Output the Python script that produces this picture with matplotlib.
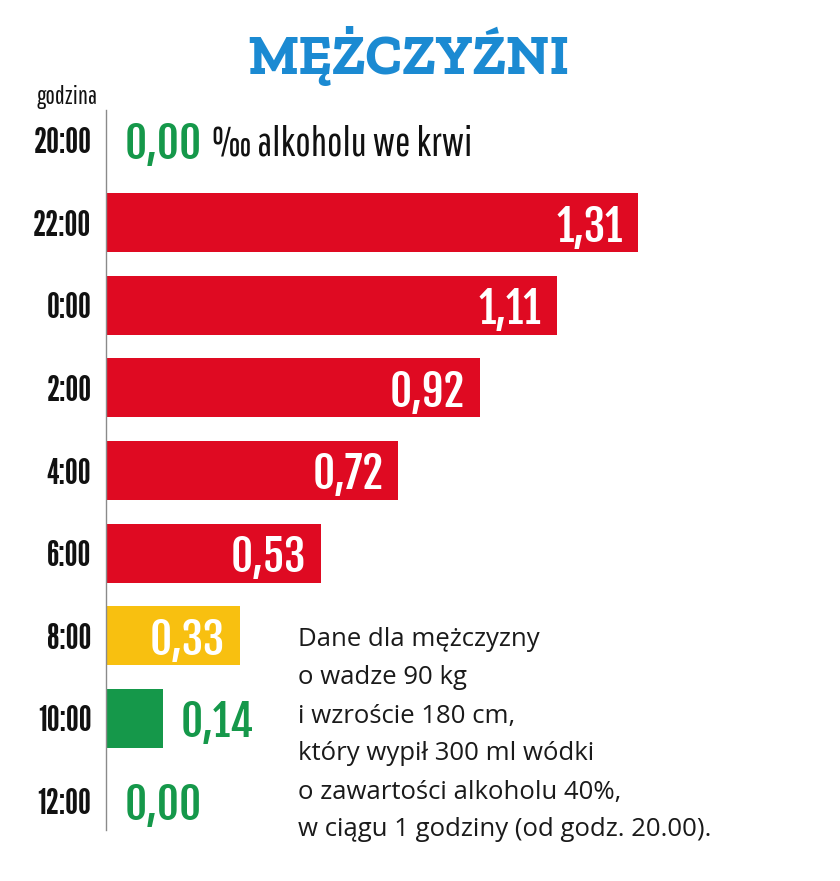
import matplotlib
matplotlib.use("Agg")
import matplotlib.pyplot as plt

hours = ["20:00", "22:00", "0:00", "2:00", "4:00", "6:00", "8:00", "10:00", "12:00"]
values = [0.00, 1.31, 1.11, 0.92, 0.72, 0.53, 0.33, 0.14, 0.00]
labels = ["0,00", "1,31", "1,11", "0,92", "0,72", "0,53", "0,33", "0,14", "0,00"]
title = "MĘŻCZYŹNI"
axis_title = "godzina"
unit_text = "‰ alkoholu we krwi"
note_lines = ["Dane dla mężczyzny", "o wadze 90 kg", "i wzroście 180 cm,",
              "który wypił 300 ml wódki", "o zawartości alkoholu 40%,",
              "w ciągu 1 godziny (od godz. 20.00)."]

RED = "#DF0A22"
YELLOW = "#F8C010"
GREEN = "#15984A"
BLUE = "#1B8AD2"

TICK_FONT = ["League Gothic", "Pathway Gothic One", "DejaVu Sans"]
TEXT_FONT = ["Pathway Gothic One", "Antonio", "DejaVu Sans"]
VAL_FONT = ["Fjalla One", "Oswald", "DejaVu Sans"]
NOTE_FONT = ["Open Sans", "DejaVu Sans"]
TITLE_FONT = ["Zilla Slab", "DejaVu Serif"]


def color_for(v):
    if v >= 0.5:
        return RED
    if v >= 0.2:
        return YELLOW
    return GREEN


W, H = 840, 881
fig = plt.figure(figsize=(8.4, 8.81), dpi=100)
top_px, bot_px = 98.7, 842.3
ax = fig.add_axes([106 / W, (H - bot_px) / H, (840 - 106) / W, (bot_px - top_px) / H])
ax.set_xlim(0, (840 - 106) / 406)
ax.set_ylim(8.5, -0.5)

ypos = list(range(len(hours)))
cols = [color_for(v) for v in values]
ax.barh(ypos, values, height=0.715, color=cols, zorder=2)

for s in ["top", "right", "bottom"]:
    ax.spines[s].set_visible(False)
ax.spines["left"].set_color("#8a8a8a")
ax.spines["left"].set_linewidth(1.0)
ax.spines["left"].set_bounds(8.35, -0.36)
ax.set_xticks([])
ax.set_yticks(ypos)
ax.set_yticklabels(hours, family=TICK_FONT, fontsize=26, color="#111111")
ax.tick_params(axis="y", length=0, pad=10.5)

for y, v, lab, c in zip(ypos, values, labels, cols):
    if v >= 0.3:
        ax.text(v - 0.037, y, lab, ha="right", va="center_baseline", color="white",
                family=VAL_FONT, fontsize=31, zorder=3)
    else:
        ax.text(v + 0.045, y, lab, ha="left", va="center_baseline", color=GREEN,
                family=VAL_FONT, fontsize=31, zorder=3)

ax.text(0.261, 0, unit_text, ha="left", va="center_baseline", color="#111111",
        family=TEXT_FONT, fontsize=29.5)

fig.text(408 / W, 1 - 56 / H, title, ha="center", va="center", color=BLUE,
         family=TITLE_FONT, weight="bold", fontsize=41)
fig.text(67 / W, 1 - 97 / H, axis_title, ha="center", va="center", color="#111111",
         family=TEXT_FONT, fontsize=18)

y0 = 640
for i, line in enumerate(note_lines):
    fig.text(298 / W, 1 - (y0 + i * 38) / H, line, ha="left", va="center",
             color="#1a1a1a", family=NOTE_FONT, fontsize=18.5)

fig.savefig("out.png", dpi=100, facecolor="white")
